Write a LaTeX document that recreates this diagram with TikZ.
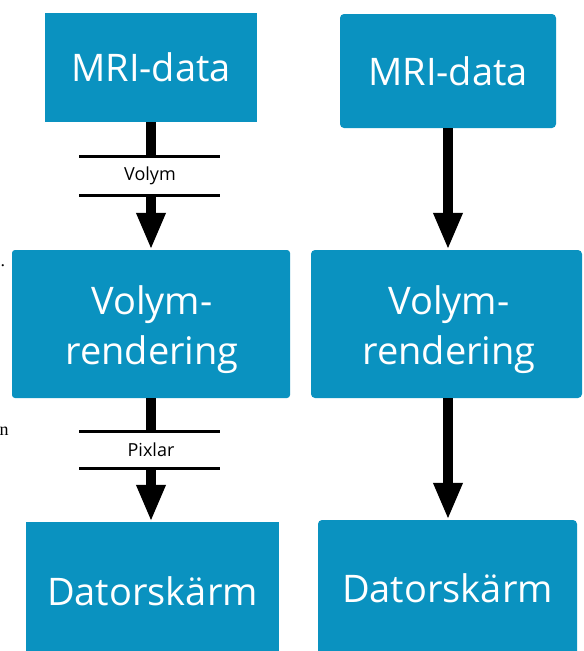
\documentclass[tikz,border=0pt]{standalone}
\usepackage{fontspec}
\setmainfont{Open Sans}
\newfontfamily\serifface{Liberation Serif}
\usetikzlibrary{arrows.meta}
\definecolor{boxblue}{RGB}{10,146,192}
\begin{document}
\begin{tikzpicture}[x=1pt,y=-1pt,
  box/.style={fill=boxblue, text=white, inner sep=0pt, align=center,
              font=\fontsize{38}{50}\selectfont},
  boxtext/.style={text=white, inner sep=0pt, align=center,
              font=\fontsize{38}{50}\selectfont},
  stem/.style={line width=10pt},
  flow/.style={line width=10pt, -{Triangle[width=27pt,length=37pt]}},
  bar/.style={line width=3pt},
  tag/.style={font=\fontsize{18}{20}\selectfont},
  stray/.style={font=\serifface\fontsize{18}{18}\selectfont, inner sep=0pt}]
\useasboundingbox (0,0) rectangle (584,651);

% stray marks at the left edge
\node[stray] (dot) at (3,266) {.};
\node[stray] (nch) at (4,431) {n};

% left column
\node[box, minimum width=212pt, minimum height=109pt] (mriL) at (151,67.5) {MRI-data};
\node[box, rounded corners=3pt, minimum width=278pt, minimum height=148pt] (volL) at (151,324) {};
\node[boxtext] (volLtext) at (152,330) {Volym-\\rendering};
\node[box, minimum width=253pt, minimum height=138pt] (datL) at (152.5,591) {Datorskärm};

% band between the boxes: "Volym"
\coordinate (vA) at (79,156);
\coordinate (vB) at (79,195);
\draw[bar] (vA) -- ++(141,0);
\draw[bar] (vB) -- ++(141,0);
\node[tag] (tagVolym) at (150,176) {Volym};
\draw[stem] (mriL.south) -- (mriL.south |- vA);
\draw[flow] (mriL.south |- vB) -- (volL.north);

% band between the boxes: "Pixlar"
\coordinate (pA) at (79,431);
\coordinate (pB) at (79,468);
\draw[bar] (pA) -- ++(141,0);
\draw[bar] (pB) -- ++(141,0);
\node[tag] (tagPixlar) at (151,450) {Pixlar};
\draw[stem] (volL.south) -- (volL.south |- pA);
\draw[flow] (volL.south |- pB) -- (volL.south |- datL.north);

% right column
\node[box, rounded corners=4pt, minimum width=216pt, minimum height=114pt] (mriR) at (448,71) {MRI-data};
\node[box, rounded corners=4pt, minimum width=271pt, minimum height=148pt] (volR) at (446.5,324) {};
\node[boxtext] (volRtext) at (449,330) {Volym-\\rendering};
\node[box, rounded corners=4pt, minimum width=259pt, minimum height=136pt] (datR) at (447.5,588) {Datorskärm};

\draw[flow] (mriR.south) -- (mriR.south |- volR.north);
\draw[flow] (mriR.south |- volR.south) -- (mriR.south |- datR.north);
\end{tikzpicture}
\end{document}
